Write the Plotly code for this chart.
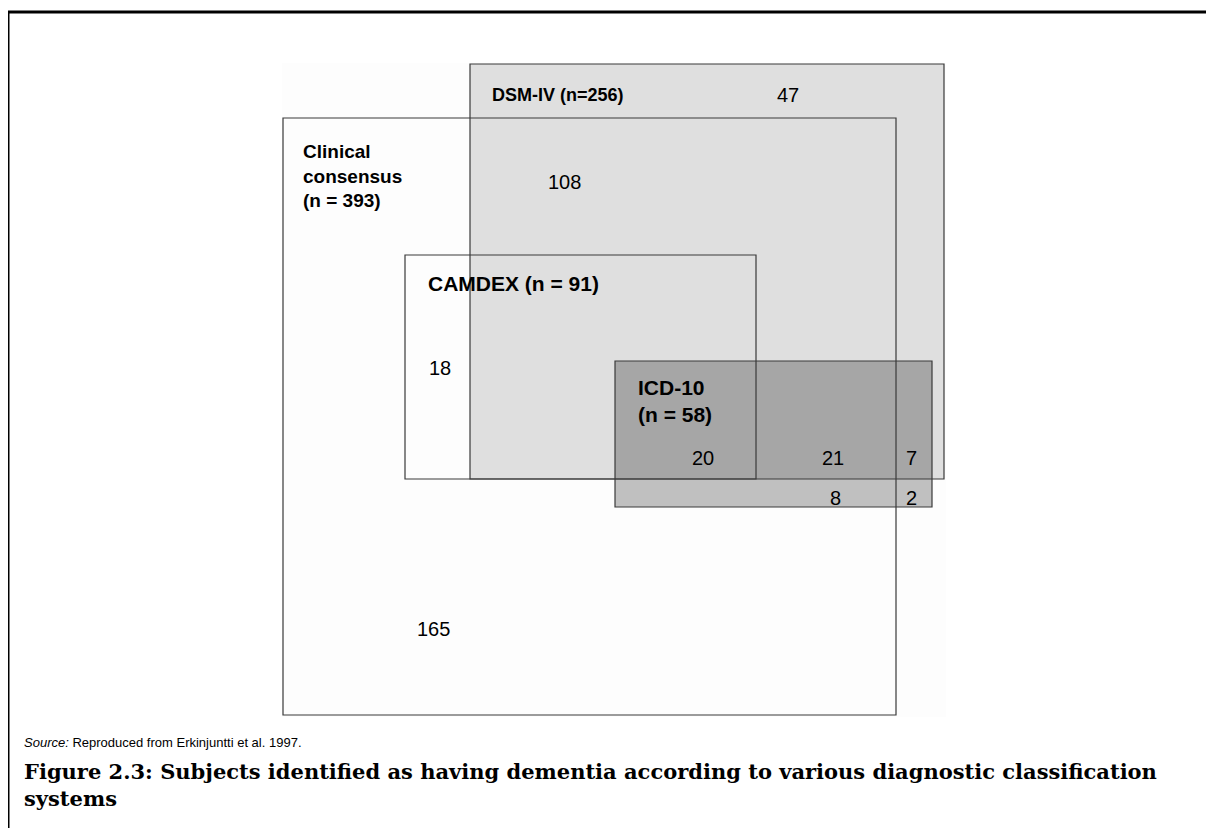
import plotly.graph_objects as go

# ---------------- data ----------------
set_names = ["Clinical<br>consensus", "DSM-IV", "CAMDEX", "ICD-10"]
set_n = [393, 256, 91, 58]
set_label_fmt = ["{name}<br>(n = {n})", "{name} (n={n})", "{name} (n = {n})", "{name}<br>(n = {n})"]

region_names = ["clinical_only", "clinical_dsm", "dsm_only", "clinical_camdex",
                "icd_camdex_dsm", "icd_dsm_clinical", "icd_dsm_only",
                "icd_clinical_only", "icd_only"]
region_counts = [165, 108, 47, 18, 20, 21, 7, 8, 2]

source_text = "<i>Source:</i> Reproduced from Erkinjuntti et al. 1997."
caption_text = ("Figure 2.3: Subjects identified as having dementia according to various diagnostic classification"
                "<br>systems")

# ---------------- layout (pixel coordinates of the page) ----------------
W, H = 1214, 828
OFF = 8  # page body margin in the browser
# boxes: x0, y0, x1, y1
box_clinical = (283, 118, 896, 715)
box_dsm = (470, 64, 944, 479)
box_camdex = (405, 255, 756, 479)
box_icd = (615, 361, 932, 507)
panel = (282, 63, 946, 717)

# label anchors (x, y, xanchor)
set_label_pos = [(301, 176, "left"), (490, 95, "left"), (426, 283, "left"), (636, 401, "left")]
set_label_size = [19, 18, 21, 21]
region_pos = [(415, 629, "left"), (546, 182, "left"), (775, 95, "left"), (427, 368, "left"),
              (716, 458, "right"), (846, 458, "right"), (919, 458, "right"),
              (843, 498, "right"), (919, 498, "right")]

LINE = "#3a3a3a"
SANS = "Liberation Sans, Arial, sans-serif"

def px(x):
    return x - OFF

fig = go.Figure()
fig.add_trace(go.Scatter(x=[0, W], y=[0, H], mode="markers", marker=dict(opacity=0),
                         hoverinfo="skip", showlegend=False))

shapes = []
def rect(b, fill=None, line=None, width=1):
    d = dict(type="rect", xref="x", yref="y", x0=px(b[0]), y0=px(b[1]), x1=px(b[2]), y1=px(b[3]),
             layer="above")
    d["fillcolor"] = fill if fill else "rgba(0,0,0,0)"
    d["line"] = dict(color=line if line else "rgba(0,0,0,0)", width=width if line else 0)
    return d

# faint panel background
shapes.append(rect(panel, fill="#fdfdfd"))
# fills
shapes.append(rect(box_dsm, fill="#dfdfdf"))
shapes.append(rect((box_icd[0], box_icd[1], box_icd[2], box_dsm[3]), fill="#a6a6a6"))
shapes.append(rect((box_icd[0], box_dsm[3], box_icd[2], box_icd[3]), fill="#c0c0c0"))
# outlines on top
for b in (box_clinical, box_dsm, box_camdex, box_icd):
    shapes.append(rect(b, line=LINE, width=1.2))
# outer frame (top + left)
shapes.append(dict(type="line", xref="x", yref="y", x0=px(8), y0=px(12), x1=W, y1=px(12),
                   line=dict(color="black", width=3), layer="above"))
shapes.append(dict(type="line", xref="x", yref="y", x0=px(8), y0=px(12), x1=px(8), y1=H,
                   line=dict(color="black", width=3), layer="above"))

annotations = []
for name, n, fmt, (x, y, xa), sz in zip(set_names, set_n, set_label_fmt, set_label_pos, set_label_size):
    annotations.append(dict(x=px(x), y=px(y), xref="x", yref="y", xanchor=xa, yanchor="middle",
                            text="<b>" + fmt.format(name=name, n=n).replace("<br>", "</b><br><b>") + "</b>",
                            showarrow=False, align="left",
                            font=dict(family=SANS, size=sz, color="black")))
for cnt, (x, y, xa) in zip(region_counts, region_pos):
    annotations.append(dict(x=px(x), y=px(y), xref="x", yref="y", xanchor=xa, yanchor="middle",
                            text=str(cnt), showarrow=False,
                            font=dict(family=SANS, size=20, color="black")))
annotations.append(dict(x=px(22), y=px(742), xref="x", yref="y", xanchor="left", yanchor="middle",
                        text=source_text, showarrow=False,
                        font=dict(family=SANS, size=13, color="black")))
annotations.append(dict(x=px(22), y=px(785), xref="x", yref="y", xanchor="left", yanchor="middle",
                        text="<b>" + caption_text.replace("<br>", "</b><br><b>") + "</b>",
                        showarrow=False, align="left",
                        font=dict(family="DejaVu Serif, serif", size=21, color="black")))

fig.update_layout(
    width=W, height=H, margin=dict(l=0, r=0, t=0, b=0),
    paper_bgcolor="white", plot_bgcolor="white",
    xaxis=dict(range=[0, W], visible=False, fixedrange=True),
    yaxis=dict(range=[H, 0], visible=False, fixedrange=True),
    shapes=shapes, annotations=annotations, showlegend=False,
)
fig.write_html("out.html")
